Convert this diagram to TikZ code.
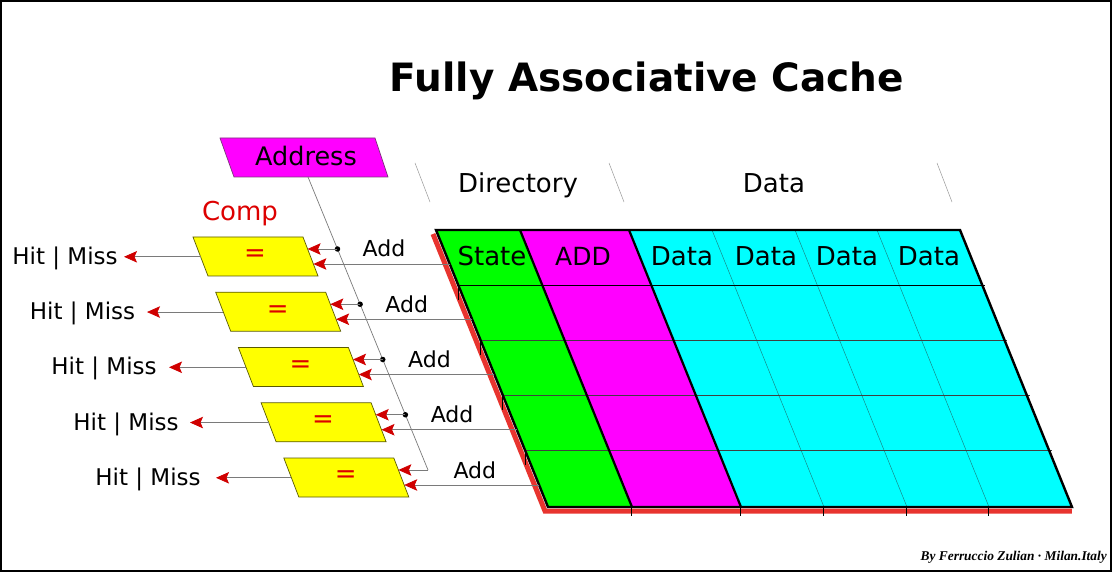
\documentclass[tikz,border=0pt]{standalone}
\usepackage{fontspec}
\setmainfont{DejaVu Sans}
\newfontfamily\sigfont{Liberation Serif}
\usetikzlibrary{arrows.meta,calc}
\definecolor{cmag}{HTML}{FF00FF}
\definecolor{cgreen}{HTML}{00FF00}
\definecolor{ccyan}{HTML}{00FFFF}
\definecolor{cyel}{HTML}{FFFF00}
\definecolor{cyelb}{HTML}{5A5A00}
\definecolor{cmagb}{HTML}{7A3A7A}
\definecolor{tred}{HTML}{DD0000}
\definecolor{ared}{HTML}{D00000}
\definecolor{lgray}{HTML}{7A7A7A}
\definecolor{shred}{HTML}{E8342F}
\definecolor{teal2}{HTML}{1A8080}
\newcommand\myfs[1]{\fontsize{#1}{#1}\selectfont}
\tikzset{
  redtip/.style={draw=lgray, line width=0.8pt, -{Stealth[length=13pt,width=11.5pt,inset=2.5pt,color=ared,fill=ared]}},
  cmpbox/.style={fill=cyel, draw=cyelb, line width=0.7pt},
  addrbox/.style={fill=cmag, draw=cmagb, line width=0.7pt},
  lbl/.style={inner sep=0pt, anchor=base, font=\myfs{26}},
  small/.style={inner sep=0pt, anchor=base, font=\myfs{22}},
  hdrline/.style={draw=black!40, line width=0.5pt},
  dotb/.style={circle, fill=black, inner sep=0pt, minimum size=5.5pt},
}
\begin{document}
\begin{tikzpicture}[x=1pt,y=-1pt]
\useasboundingbox (0,0) rectangle (1112,572);
\fill[white] (0,0) rectangle (1112,572);
\draw[line width=2.2pt] (1.1,1.1) rectangle (1110.9,570.9);

% title
\node[inner sep=0pt, anchor=base, font=\myfs{39}\bfseries] (title) at (647,91.5) {Fully Associative Cache};

% address
\draw[addrbox] (220,138) -- (375,138) -- (388,177) -- (234,177) -- cycle;
\node[lbl, font=\myfs{25.5}] (addr) at (306,166) {Address};
\coordinate (abot) at (308,177);
\coordinate (acorner) at (428,470);

% comp label
\node[lbl, text=tred] (comp) at (240,221) {Comp};

% column header
\draw[hdrline] (415,163) -- (430,202);
\draw[hdrline] (609,163) -- (624,202);
\draw[hdrline] (937,163) -- (952,202);
\node[lbl] (dir) at (518,192.5) {Directory};
\node[lbl] (datah) at (774,192.5) {Data};

% table shadow
\begin{scope}[shift={(433,234)}, xslant=-0.4043]
  \draw[shred, line width=5pt, line join=miter] (0,0) -- (0,277) -- (527,277);
\end{scope}
% table
\begin{scope}[shift={(436,230)}, xslant=-0.4043]
  \fill[cgreen] (0,0) -- (84,0) -- (84,277) -- (0,277) -- cycle;
  \fill[cmag] (84,0) -- (193,0) -- (193,277) -- (84,277) -- cycle;
  \fill[ccyan] (193,0) -- (524,0) -- (524,277) -- (193,277) -- cycle;
  \foreach \c in {276,359,441} \draw[teal2, line width=0.45pt] (\c,0) -- (\c,277);
  \draw[black, line width=0.9pt] (0,55) -- (527,55);
  \foreach \r in {110,165,220} \draw[black!75, line width=0.5pt] (0,\r) -- (527,\r);
  \draw[line width=2.2pt] (84,0) -- (84,277);
  \draw[line width=2.2pt] (193,0) -- (193,277);
  \draw[line width=2.4pt, line join=miter] (0,0) -- (524,0) -- (524,277) -- (0,277) -- cycle;
  \foreach \k in {0,...,4} \coordinate (te\k) at (0,{34+55.25*\k});
  \foreach \k/\r in {1/55,2/110,3/165,4/220} \coordinate (lt\k) at (0,\r);
  \foreach \k/\c in {1/84,2/193,3/276,4/359,5/441} \coordinate (bt\k) at (\c,277);
\end{scope}
\foreach \k in {1,...,4} \draw[black, line width=0.6pt] (lt\k) -- ($(lt\k)+(0,15)$);
\foreach \k in {1,...,5} \draw[black, line width=1pt] (bt\k) -- ($(bt\k)+(0,9)$);

% header texts
\node[lbl] (hstate) at (492,266) {State};
\node[lbl, font=\myfs{25}] (hadd) at (583,266) {ADD};
\node[lbl] (hd1) at (682,266) {Data};
\node[lbl] (hd2) at (766,266) {Data};
\node[lbl] (hd3) at (847,266) {Data};
\node[lbl] (hd4) at (929,266) {Data};

% comparators
\foreach \k in {0,...,4}{
  \pgfmathsetmacro\tx{193+22.7*\k}
  \pgfmathsetmacro\ty{237+55.25*\k}
  \draw[cmpbox] (\tx,\ty) -- ++(110,0) -- ++(15,39) -- ++(-110,0) -- cycle;
  \node[inner sep=0pt, text=tred, font=\myfs{26}] (eq\k) at (\tx+62,\ty+19) {=};
  \coordinate (cu\k) at (\tx+114.6,\ty+12);
  \coordinate (cl\k) at (\tx+120.4,\ty+27);
  \coordinate (cm\k) at (\tx+7.5,\ty+19.8);
  \node[small] (ad\k) at (\tx+191,\ty+20) {Add};
  \draw[redtip] (te\k) -- (cl\k);
}
% hit / miss
\foreach \k/\tip/\hx in {0/124/65, 1/147/82.5, 2/169/104, 3/190/126, 4/216/148}{
  \pgfmathsetmacro\hy{256.8+55.25*\k}
  \node[small, font=\myfs{23}] (hm\k) at (\hx,\hy+7.5) {Hit | Miss};
  \coordinate (ht\k) at (\tip,\hy);
  \draw[redtip] (cm\k) -- (ht\k);
}
% address bus
\draw[draw=lgray, line width=0.7pt] (abot) -- (acorner);
\draw[redtip] (acorner) -- (cu4);
\foreach \k in {0,...,3}{
  \pgfmathsetmacro\dy{249+55.25*\k}
  \node[dotb] (d\k) at ({308+0.4096*(\dy-177)},\dy) {};
  \draw[redtip] (d\k.center) -- (cu\k);
}

% signature
\node[inner sep=0pt, anchor=east, font=\sigfont\bfseries\itshape\myfs{13.4}] (sig) at (1107,557) {By Ferruccio Zulian · Milan.Italy};
\end{tikzpicture}
\end{document}
